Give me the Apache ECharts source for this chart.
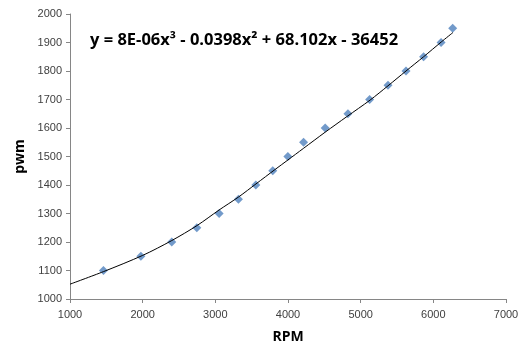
<!DOCTYPE html>
<html>
<head>
<meta charset="utf-8">
<script src="https://cdn.jsdelivr.net/npm/echarts@6/dist/echarts.min.js"></script>
<style>
  html, body { margin: 0; padding: 0; background: #fff; }
  #chart { width: 519px; height: 343px; }
</style>
</head>
<body>
<div id="chart"></div>
<script>
// measured points
const rpm = [1460, 1975, 2400, 2745, 3052, 3318, 3557, 3790, 3998, 4214, 4512, 4825, 5123, 5376, 5624, 5866, 6106, 6266];
const pwm = [1100, 1150, 1200, 1250, 1300, 1350, 1400, 1450, 1500, 1550, 1600, 1650, 1700, 1750, 1800, 1850, 1900, 1950];

// polynomial trendline
const trendRpm = [1000, 1460, 2000, 2400, 2750, 3050, 3320, 3560, 3820, 4000, 4210, 4510, 4810, 5130, 5376, 5624, 5866, 6110, 6270];
const trendPwm = [1052, 1096, 1153, 1205, 1258, 1312, 1358, 1404, 1454, 1488, 1528, 1585, 1640, 1698, 1748, 1800, 1850, 1902, 1935];

const equation = "y = 8E-06x³ - 0.0398x² + 68.102x - 36452";

const labelStyle = { color: "#404040", fontFamily: "Liberation Sans", fontSize: 11 };
const nameStyle = { color: "#000", fontFamily: "Open Sans", fontSize: 14, fontWeight: "bold" };

const chart = echarts.init(document.getElementById("chart"), null, { renderer: "canvas" });

chart.setOption({
  animation: false,
  backgroundColor: "#fff",
  grid: { left: 70, right: 13, top: 14, bottom: 44, outerBoundsMode: "none", containLabel: false },
  xAxis: {
    type: "value",
    min: 1000,
    max: 7000,
    interval: 1000,
    name: "RPM",
    nameLocation: "middle",
    nameGap: 31,
    nameTextStyle: nameStyle,
    axisLine: { show: true, lineStyle: { color: "#868686", width: 1 } },
    axisTick: { show: true, length: 4, lineStyle: { color: "#868686" } },
    axisLabel: { ...labelStyle, margin: 10, formatter: (v) => String(v) },
    splitLine: { show: false },
  },
  yAxis: {
    type: "value",
    min: 1000,
    max: 2000,
    interval: 100,
    name: "pwm",
    nameLocation: "middle",
    nameGap: 38,
    nameTextStyle: nameStyle,
    axisLine: { show: true, lineStyle: { color: "#868686", width: 1 } },
    axisTick: { show: true, length: 4, lineStyle: { color: "#868686" } },
    axisLabel: { ...labelStyle, margin: 8, formatter: (v) => String(v) },
    splitLine: { show: false },
  },
  series: [
    {
      type: "line",
      data: trendRpm.map((x, i) => [x, trendPwm[i]]),
      smooth: 0.3,
      showSymbol: false,
      lineStyle: { color: "#000", width: 1 },
      z: 3,
    },
    {
      type: "scatter",
      data: rpm.map((x, i) => [x, pwm[i]]),
      symbol: "diamond",
      symbolSize: 9,
      itemStyle: { color: "#4F81BD" },
      z: 2,
    },
  ],
  graphic: [
    {
      type: "text",
      left: 90,
      top: 32,
      style: {
        text: equation,
        fill: "#000",
        font: "bold 16.5px 'Open Sans'",
      },
    },
  ],
});
</script>
</body>
</html>
